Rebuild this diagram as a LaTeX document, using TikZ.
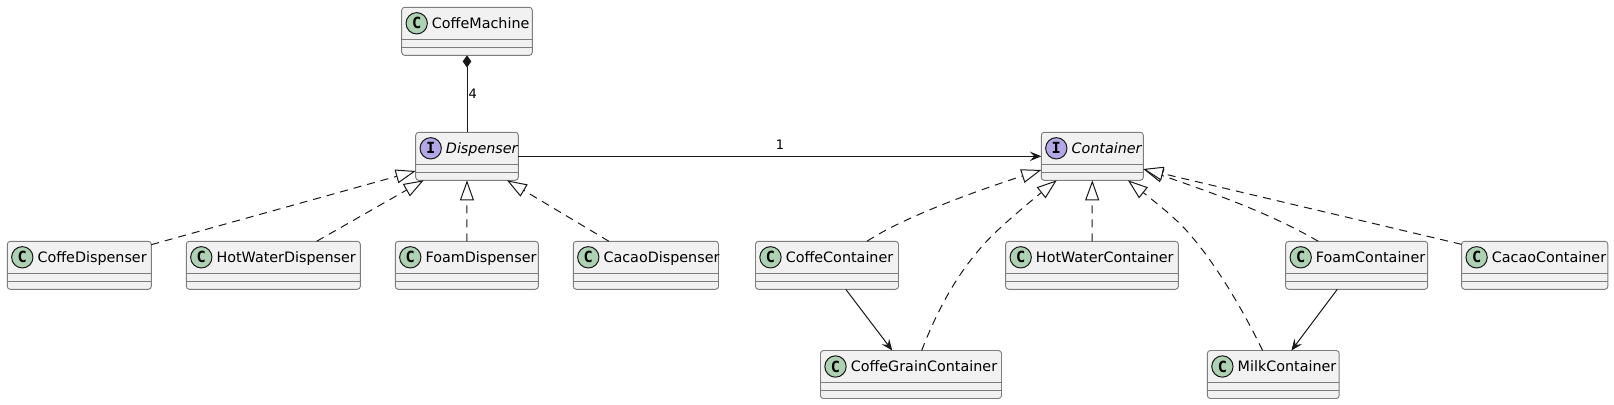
\documentclass[tikz,border=0pt]{standalone}
\usepackage{fontspec}
\setmainfont{DejaVu Sans}
\newfontfamily\spotfont{DejaVu Sans Mono}[BoldFont={* Bold}]
\usepackage{xcolor}
\usepackage{tikz}
\usetikzlibrary{shapes.geometric, arrows.meta, positioning, calc}
\definecolor{umlink}{RGB}{24, 24, 24}
\definecolor{boxline}{RGB}{125, 125, 125}
\definecolor{boxfill}{RGB}{241, 241, 241}
\definecolor{classgreen}{RGB}{173, 209, 178}
\definecolor{ifacepurple}{RGB}{180, 167, 229}

\tikzset{
    classbox/.style={draw=boxline, fill=boxfill, line width=0.7pt, rounded corners=2.2pt,
        minimum height=36pt, inner sep=0pt, outer sep=0pt,
        path picture={\draw[boxline, line width=0.7pt, sharp corners]
            ($(path picture bounding box.north west)+(0,32)$) -- ($(path picture bounding box.north east)+(0,32)$)
            ($(path picture bounding box.north west)+(0,40)$) -- ($(path picture bounding box.north east)+(0,40)$);}},
    boxw/.style={minimum width=#1*0.75pt},
    classspot/.style={circle, draw=umlink, fill=classgreen, line width=0.75pt, minimum size=16pt, inner sep=0pt, font=\spotfont\bfseries\fontsize{11.5}{12}\selectfont},
    ifacespot/.style={classspot, fill=ifacepurple},
    classname/.style={anchor=base west, inner sep=0pt, text=black, font=\fontsize{10.75}{12}\selectfont},
    ifacename/.style={classname, font=\itshape\fontsize{10.75}{12}\selectfont},
    edgelabel/.style={anchor=base, inner sep=0pt, text=black, font=\fontsize{9.75}{11}\selectfont},
    link/.style={umlink, line width=0.75pt},
    assoc/.style={link, -{Stealth[length=8.5pt, width=7pt, inset=3.2pt]}},
    compose/.style={link, {Diamond[length=9.2pt, width=6.4pt]}-},
    realize/.style={link, dash pattern=on 6pt off 4.5pt, -{Triangle[open, length=15pt, width=10.5pt, fill=white]}}
}

\begin{document}
\begin{tikzpicture}[x=0.75pt, y=-0.75pt]
    \useasboundingbox (0,0) rectangle (1614,404);

    % ==== Top class ====
    \node[classbox, boxw=130.6] (machine) at (467,31.3) {};
    \node[classspot] (machinespot) at ($(machine.north west)+(15,16)$) {C};
    \node[classname] (machinename) at ($(machine.north west)+(30,21)$) {CoffeMachine};

    % ==== Interfaces ====
    \node[classbox, boxw=102.6] (dispenser) at (467,156.3) {};
    \node[ifacespot] (dispenserspot) at ($(dispenser.north west)+(15,16)$) {I};
    \node[ifacename] (dispensername) at ($(dispenser.north west)+(30,21)$) {Dispenser};

    \node[classbox, boxw=102] (container) at (1092.3,156.3) {};
    \node[ifacespot] (containerspot) at ($(container.north west)+(15,16)$) {I};
    \node[ifacename] (containername) at ($(container.north west)+(30,21)$) {Container};

    % ==== Dispensers ====
    \node[classbox, boxw=144] (coffedispenser) at (79.3,265.3) {};
    \node[classspot] (coffedispenserspot) at ($(coffedispenser.north west)+(15,16)$) {C};
    \node[classname] (coffedispensername) at ($(coffedispenser.north west)+(30,21)$) {CoffeDispenser};

    \node[classbox, boxw=174] (hotwaterdispenser) at (273.3,265.3) {};
    \node[classspot] (hotwaterdispenserspot) at ($(hotwaterdispenser.north west)+(15,16)$) {C};
    \node[classname] (hotwaterdispensername) at ($(hotwaterdispenser.north west)+(30,21)$) {HotWaterDispenser};

    \node[classbox, boxw=143] (foamdispenser) at (466.8,265.3) {};
    \node[classspot] (foamdispenserspot) at ($(foamdispenser.north west)+(15,16)$) {C};
    \node[classname] (foamdispensername) at ($(foamdispenser.north west)+(30,21)$) {FoamDispenser};

    \node[classbox, boxw=145.2] (cacaodispenser) at (645.9,265.3) {};
    \node[classspot] (cacaodispenserspot) at ($(cacaodispenser.north west)+(15,16)$) {C};
    \node[classname] (cacaodispensername) at ($(cacaodispenser.north west)+(30,21)$) {CacaoDispenser};

    % ==== Containers ====
    \node[classbox, boxw=143] (coffecontainer) at (827,265.3) {};
    \node[classspot] (coffecontainerspot) at ($(coffecontainer.north west)+(15,16)$) {C};
    \node[classname] (coffecontainername) at ($(coffecontainer.north west)+(30,21)$) {CoffeContainer};

    \node[classbox, boxw=172.6] (hotwatercontainer) at (1092,265.3) {};
    \node[classspot] (hotwatercontainerspot) at ($(hotwatercontainer.north west)+(15,16)$) {C};
    \node[classname] (hotwatercontainername) at ($(hotwatercontainer.north west)+(30,21)$) {HotWaterContainer};

    \node[classbox, boxw=142] (foamcontainer) at (1356.7,265.3) {};
    \node[classspot] (foamcontainerspot) at ($(foamcontainer.north west)+(15,16)$) {C};
    \node[classname] (foamcontainername) at ($(foamcontainer.north west)+(30,21)$) {FoamContainer};

    \node[classbox, boxw=146.2] (cacaocontainer) at (1534.7,265.3) {};
    \node[classspot] (cacaocontainerspot) at ($(cacaocontainer.north west)+(15,16)$) {C};
    \node[classname] (cacaocontainername) at ($(cacaocontainer.north west)+(30,21)$) {CacaoContainer};

    \node[classbox, boxw=181] (coffegraincontainer) at (911,374.5) {};
    \node[classspot] (coffegraincontainerspot) at ($(coffegraincontainer.north west)+(15,16)$) {C};
    \node[classname] (coffegraincontainername) at ($(coffegraincontainer.north west)+(30,21)$) {CoffeGrainContainer};

    \node[classbox, boxw=131.8] (milkcontainer) at (1273.3,374.5) {};
    \node[classspot] (milkcontainerspot) at ($(milkcontainer.north west)+(15,16)$) {C};
    \node[classname] (milkcontainername) at ($(milkcontainer.north west)+(30,21)$) {MilkContainer};

    % ==== Solid connectors ====
    \draw[compose] (machine.south) -- (dispenser.north);
    \node[edgelabel, anchor=base west] (fourlabel) at (468.3,98.7) {4};
    \draw[assoc] (dispenser.east) -- (container.west);
    \node[edgelabel] (onelabel) at (780,149) {1};
    \draw[assoc] (coffecontainer.-52.5) -- (coffegraincontainer.128.4);
    \draw[assoc] (foamcontainer.231.3) -- (milkcontainer.53.6);

    % ==== Realizations of Dispenser ====
    \draw[realize] (coffedispenser.16.5) -- (dispenser.196);
    \draw[realize] (hotwaterdispenser.29.9) -- (dispenser.209.7);
    \draw[realize] (foamdispenser.north) -- (dispenser.south);
    \draw[realize] (cacaodispenser.147.5) -- (dispenser.-31.2);

    % ==== Realizations of Container ====
    \draw[realize] (coffecontainer.31.2) .. controls (905,216) and (985,188) .. (container.195.1);
    \draw[realize] (coffegraincontainer.66.6) .. controls (945,290) and (972,254) .. (999,229) .. controls (1012,217) and (1030,201.7) .. (container.214);
    \draw[realize] (hotwatercontainer.north) -- (container.south);
    \draw[realize] (milkcontainer.114.2) .. controls (1243,310) and (1215,262) .. (1186,230) .. controls (1172,215) and (1155,202) .. (container.-34.1);
    \draw[realize] (foamcontainer.148) .. controls (1270,213) and (1210,192) .. (container.-14.5);
    \draw[realize] (cacaocontainer.164.9) -- (container.-14.2);
\end{tikzpicture}
\end{document}
